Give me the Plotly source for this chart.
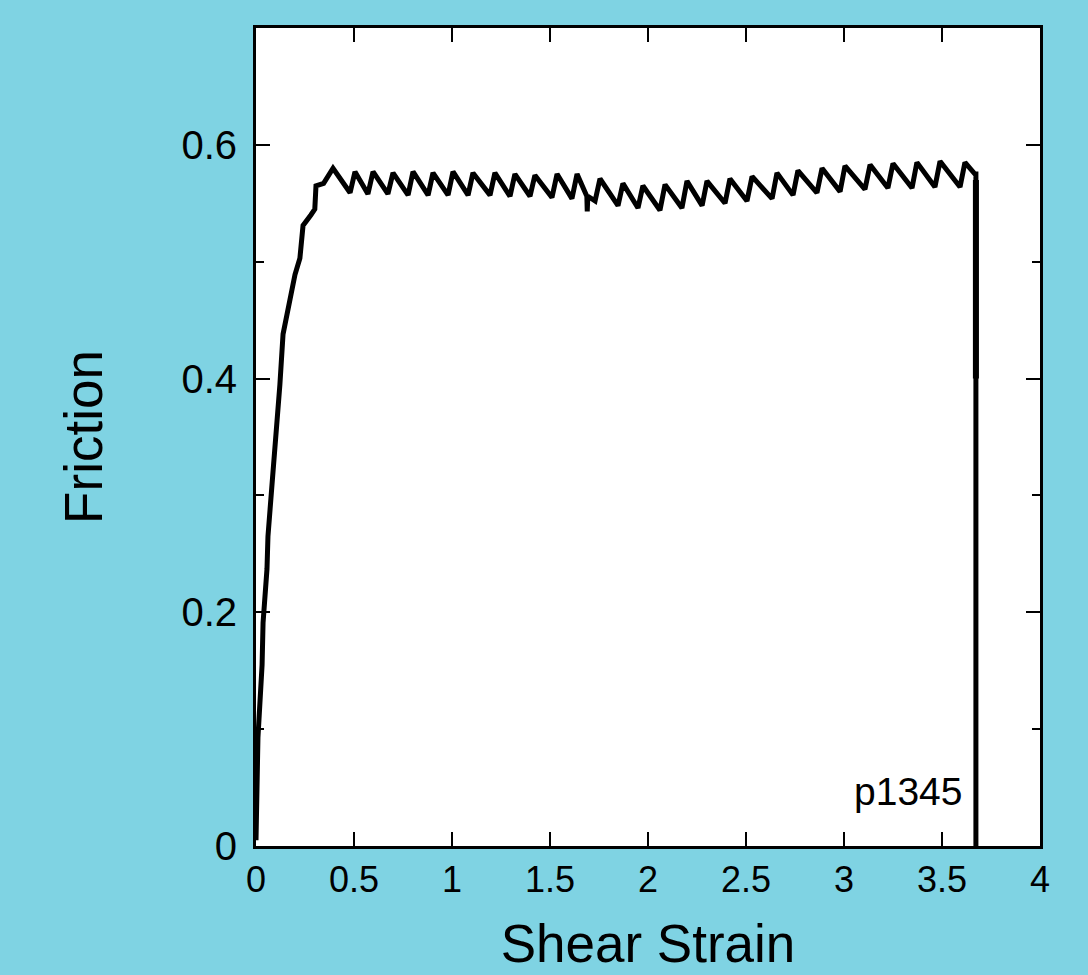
import plotly.graph_objects as go

# loading ramp (strain, friction)
ramp_strain = [0.0, 0.003, 0.010, 0.031, 0.036, 0.056, 0.061, 0.082, 0.097, 0.112,
               0.122, 0.138, 0.163, 0.199, 0.224, 0.240, 0.280, 0.300, 0.306, 0.345]
ramp_friction = [0.005, 0.040, 0.093, 0.155, 0.191, 0.237, 0.265, 0.310, 0.339, 0.367,
                 0.395, 0.438, 0.460, 0.489, 0.503, 0.531, 0.540, 0.545, 0.565, 0.567]

# stick-slip plateau: peak / trough pairs
slip_strain = [0.393, 0.480, 0.505, 0.571, 0.597, 0.673, 0.699, 0.776, 0.801, 0.878,
               0.903, 0.980, 1.005, 1.082, 1.107, 1.194, 1.219, 1.296, 1.321, 1.398,
               1.423, 1.510, 1.536, 1.612, 1.638, 1.688, 1.690, 1.693, 1.730, 1.755,
               1.847, 1.872, 1.949, 1.974, 2.061, 2.087, 2.173, 2.199, 2.276, 2.301,
               2.393, 2.418, 2.505, 2.531, 2.633, 2.658, 2.740, 2.765, 2.862, 2.888,
               2.980, 3.005, 3.107, 3.133, 3.224, 3.250, 3.347, 3.372, 3.464, 3.490,
               3.592, 3.617]
slip_friction = [0.580, 0.559, 0.577, 0.558, 0.577, 0.558, 0.576, 0.557, 0.577, 0.557,
                 0.576, 0.557, 0.577, 0.557, 0.576, 0.557, 0.576, 0.556, 0.575, 0.556,
                 0.574, 0.555, 0.575, 0.554, 0.575, 0.556, 0.543, 0.556, 0.552, 0.571,
                 0.548, 0.567, 0.546, 0.565, 0.544, 0.566, 0.546, 0.569, 0.548, 0.569,
                 0.550, 0.571, 0.552, 0.573, 0.554, 0.576, 0.557, 0.578, 0.559, 0.580,
                 0.560, 0.582, 0.562, 0.583, 0.563, 0.584, 0.563, 0.585, 0.564, 0.586,
                 0.564, 0.585]

# unloading
unload_strain = [3.668, 3.673, 3.673]
unload_friction = [0.575, 0.575, 0.0]
noisy_strain = [3.673, 3.673]
noisy_friction = [0.570, 0.400]

x_ticks = [0, 0.5, 1, 1.5, 2, 2.5, 3, 3.5, 4]
x_labels = ["0", "0.5", "1", "1.5", "2", "2.5", "3", "3.5", "4"]
y_ticks = [0, 0.2, 0.4, 0.6]
y_labels = ["0", "0.2", "0.4", "0.6"]

bg = "#7FD3E3"
font = "Liberation Sans, Arial, sans-serif"

fig = go.Figure()
fig.add_trace(go.Scatter(
    x=ramp_strain + slip_strain + unload_strain,
    y=ramp_friction + slip_friction + unload_friction,
    mode="lines", line=dict(color="black", width=5), showlegend=False,
))
fig.add_trace(go.Scatter(
    x=noisy_strain, y=noisy_friction,
    mode="lines", line=dict(color="black", width=6), showlegend=False,
))

fig.add_annotation(x=3.61, y=0.047, xref="x", yref="y", text="p1345",
                   showarrow=False, xanchor="right", yanchor="middle",
                   font=dict(family=font, size=39, color="black"))

fig.update_layout(
    width=1088, height=975,
    paper_bgcolor=bg, plot_bgcolor="white",
    margin=dict(l=256, r=48, t=28, b=123),
    font=dict(family=font, color="black"),
)
fig.update_xaxes(
    range=[0, 4], tickvals=x_ticks, ticktext=x_labels,
    ticks="inside", ticklen=14, tickwidth=2, tickcolor="black",
    showline=True, linewidth=3, linecolor="black", mirror="allticks",
    showgrid=False, zeroline=False,
    tickfont=dict(size=36),
    title=dict(text="Shear Strain", font=dict(size=53), standoff=26),
)
fig.update_yaxes(
    range=[0, 0.7], tickvals=y_ticks, ticktext=y_labels,
    ticks="inside", ticklen=14, tickwidth=2, tickcolor="black",
    showline=True, linewidth=3, linecolor="black", mirror="allticks",
    showgrid=False, zeroline=False,
    minor=dict(dtick=0.1, ticks="inside", ticklen=8, tickwidth=2, tickcolor="black"),
    tickfont=dict(size=40), ticklabelstandoff=8,
    title=dict(text="Friction", font=dict(size=53), standoff=62),
)

fig.write_html("out.html", config={"displayModeBar": False},
               post_script="document.body.style.margin='0';")
